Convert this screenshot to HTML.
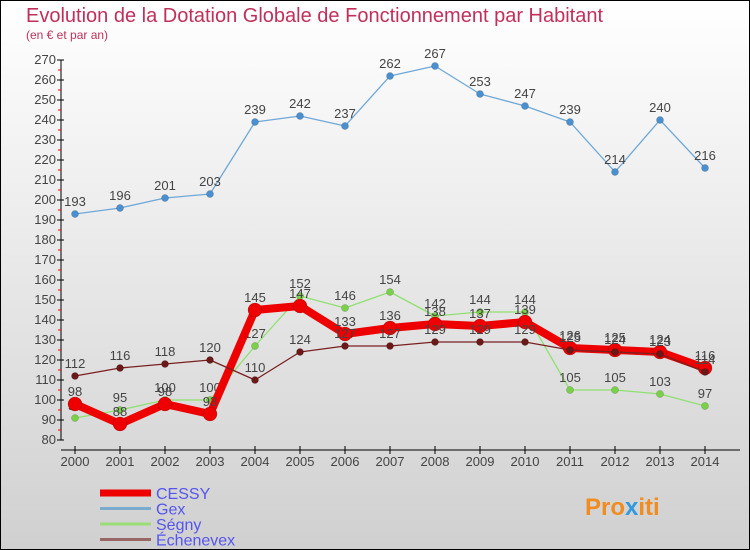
<!DOCTYPE html>
<html><head><meta charset="utf-8"><style>
body{margin:0;}
#c{width:750px;height:550px;position:relative;overflow:hidden;box-sizing:border-box;border:1px solid #000;background:linear-gradient(#ffffff,#d0d0d0);font-family:"Liberation Sans","DejaVu Sans",sans-serif;}
</style></head><body>
<div id="c">
<svg id="s" width="750" height="550" style="position:absolute;left:-1px;top:-1px">
<text x="26" y="22" font-size="20" fill="#c0305a">Evolution de la Dotation Globale de Fonctionnement par Habitant</text>
<text x="26" y="39" font-size="12" fill="#c0305a">(en € et par an)</text>
<text x="585" y="515" font-size="24" font-weight="bold" fill="#f08c20">Pro<tspan fill="#3399dd">x</tspan>iti</text>
</svg>
</div>
<script>
const years=[2000,2001,2002,2003,2004,2005,2006,2007,2008,2009,2010,2011,2012,2013,2014];
const cessy=[98,88,98,93,145,147,133,136,138,137,139,126,125,124,116];
const gex=[193,196,201,203,239,242,237,262,267,253,247,239,214,240,216];
const segny=[91,95,100,100,127,152,146,154,142,144,144,105,105,103,97];
const echenevex=[112,116,118,120,110,124,127,127,129,129,129,125,124,123,114];
const yTicks=[80,90,100,110,120,130,140,150,160,170,180,190,200,210,220,230,240,250,260,270];
const svg=document.getElementById('s');const NS='http://www.w3.org/2000/svg';
function X(i){return 75+45*i;}
function Y(v){return 440-(v-80)*2;}
function mk(t,a,p){const e=document.createElementNS(NS,t);for(const k in a)e.setAttribute(k,a[k]);(p||svg).appendChild(e);return e;}
const ax=mk('g',{});


mk('line',{x1:61,y1:Y(270),x2:61,y2:Y(80),stroke:'#000'},ax);
mk('line',{x1:61,y1:450,x2:740,y2:450,stroke:'#000'},ax);
yTicks.forEach(v=>{
 mk('line',{x1:57,y1:Y(v),x2:64,y2:Y(v),stroke:'#000'},ax);
 if(v<270)mk('line',{x1:58,y1:Y(v+5),x2:61,y2:Y(v+5),stroke:'#f00'},ax);
 const t=mk('text',{x:56,y:Y(v)+4,'font-size':13,fill:'#444','text-anchor':'end'},ax);t.textContent=v;
 
 
});
years.forEach((yr,i)=>{
 mk('line',{x1:X(i),y1:446,x2:X(i),y2:454,stroke:'#000'},ax);
 const t=mk('text',{x:X(i),y:466,'font-size':13,fill:'#444','text-anchor':'middle'},ax);t.textContent=yr;
 
 
});
function series(name,data,color,w,r,fill){
 const g=mk('g',{});
 
 
 mk('polyline',{points:data.map((v,i)=>X(i)+','+Y(v)).join(' '),fill:'none',stroke:color,'stroke-width':w,'stroke-linejoin':'round'},g);
 data.forEach((v,i)=>{
  const c=mk('circle',{cx:X(i),cy:Y(v),r:r,fill:fill,stroke:'rgba(0,0,0,0.3)','stroke-width':0.5},g);
  
  
  const t=mk('text',{x:X(i),y:Y(v)-8,'font-size':13,fill:'#444','text-anchor':'middle'},g);t.textContent=v;
  
  
 });
}
series('gex',gex,'#6fa8d8',1.3,3.5,'#4a90d0');
series('segny',segny,'#90e070',1.3,3.5,'#7ad048');
series('cessy',cessy,'#ee0000',8,7,'#ee0000');
series('echenevex',echenevex,'#7a2020',1.3,3.5,'#6a1818');
const lg=[['CESSY','#ee0000',7],['Gex','#7aaacc',3],['Ségny','#99dd77',3],['Échenevex','#996666',3]];
lg.forEach((l,i)=>{
 const y=493+15.5*i;
 const g=mk('g',{});
 
 
 mk('line',{x1:100,y1:y,x2:151,y2:y,stroke:l[1],'stroke-width':l[2]},g);
 const t=mk('text',{x:156,y:y+6,'font-size':16,fill:'#5555ee'},g);t.textContent=l[0];
});
</script>
</body></html>
